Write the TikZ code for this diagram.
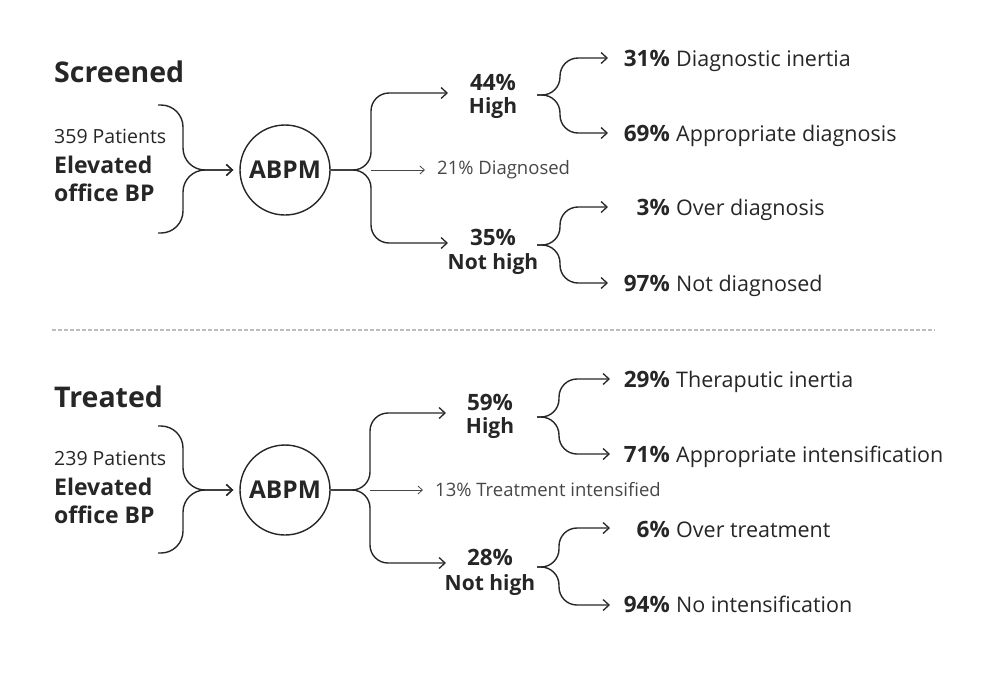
\documentclass[tikz,border=0pt]{standalone}
\usepackage{fontspec}
\setmainfont{Open Sans}[Ligatures=NoCommon]
\usetikzlibrary{arrows.meta}
\definecolor{ink}{HTML}{262626}
\definecolor{dash}{HTML}{BDBDBD}
\begin{document}
\begin{tikzpicture}[x=1pt,y=-1pt,
  txt/.style={inner sep=0pt, text=ink},
  ttl/.style={txt, font=\fontsize{28.5}{30}\selectfont\bfseries},
  small/.style={txt, font=\fontsize{19.5}{21}\selectfont},
  midb/.style={txt, font=\fontsize{23}{25}\selectfont\bfseries},
  pct/.style={txt, font=\fontsize{22.5}{24}\selectfont\bfseries},
  word/.style={txt, font=\fontsize{21}{23}\selectfont\bfseries},
  lab/.style={txt, font=\fontsize{21.5}{23}\selectfont},
  note/.style={txt, font=\fontsize{18.5}{20}\selectfont, text=ink!85},
  hub/.style={circle, draw=ink, line width=1.4pt, minimum size=90pt, inner sep=0pt, text=ink, font=\fontsize{24.5}{26}\selectfont\bfseries},
  link/.style={draw=ink, line width=1.4pt, rounded corners=18pt, -{Straight Barb[length=6pt,width=11pt,line width=1.3pt]}},
  thinlink/.style={draw=ink!85, line width=0.8pt, -{Straight Barb[length=4.5pt,width=8pt,line width=0.8pt]}},
  sep/.style={draw=dash, line width=1.2pt, dash pattern=on 3.5pt off 2.5pt}
]
\useasboundingbox (0,0) rectangle (1000,673);

% ---------- Top panel ----------
\node[ttl, anchor=base west] (t1) at (54,82) {Screened};
\node[small, anchor=base west] (p1) at (54,143) {359 Patients};
\node[midb, anchor=base west] (e1) at (54,173) {Elevated};
\node[midb, anchor=base west] (o1) at (54,201) {office BP};
\node[hub] (a1) at (285,170) {ABPM};
\coordinate (s1a) at (158,105);
\coordinate (s1b) at (158,233);
\draw[link, rounded corners=22pt, shorten >=6pt] (s1a) -- (183,105) -- (183,170) -- (a1.west);
\draw[link, rounded corners=22pt, shorten >=6pt] (s1b) -- (183,233) -- (183,170) -- (a1.west);
\coordinate (j1) at (371,170);
\coordinate (h1) at (448,93);
\coordinate (n1) at (448,243);
\draw[link] (a1.east) -- (j1) |- (h1);
\draw[link] (a1.east) -- (j1) |- (n1);
\coordinate (m1) at (425,170);
\draw[thinlink] (j1) -- (m1);
\node[note, anchor=west] (d1) at (437,170) {21\% Diagnosed};

\node[pct, anchor=base] (hp1) at (493,90) {44\%};
\node[word, anchor=base] (hl1) at (493,113) {High};
\node[pct, anchor=base] (np1) at (493,245) {35\%};
\node[word, anchor=base] (nl1) at (493,269) {Not high};

\coordinate (hs1) at (537,95);
\coordinate (ns1) at (537,245);
\coordinate (r1a) at (608,58);
\coordinate (r1b) at (608,133);
\coordinate (r1c) at (608,207);
\coordinate (r1d) at (608,283);
\draw[link] (hs1) -- (560,95) |- (r1a);
\draw[link] (hs1) -- (560,95) |- (r1b);
\draw[link] (ns1) -- (560,245) |- (r1c);
\draw[link] (ns1) -- (560,245) |- (r1d);

\node[pct, anchor=base east] (q1a) at (670,66) {31\%};
\node[lab, anchor=base west] (l1a) at (676,66) {Diagnostic inertia};
\node[pct, anchor=base east] (q1b) at (670,141) {69\%};
\node[lab, anchor=base west] (l1b) at (676,141) {Appropriate diagnosis};
\node[pct, anchor=base east] (q1c) at (670,215) {3\%};
\node[lab, anchor=base west] (l1c) at (676,215) {Over diagnosis};
\node[pct, anchor=base east] (q1d) at (670,291) {97\%};
\node[lab, anchor=base west] (l1d) at (676,291) {Not diagnosed};

% ---------- Separator ----------
\coordinate (sepA) at (52,330);
\coordinate (sepB) at (935,330);
\draw[sep] (sepA) -- (sepB);

% ---------- Bottom panel ----------
\begin{scope}[shift={(0,320)}]
\node[ttl, anchor=base west] (t2) at (54,87) {Treated};
\node[small, anchor=base west] (p2) at (54,145) {239 Patients};
\node[midb, anchor=base west] (e2) at (54,175) {Elevated};
\node[midb, anchor=base west] (o2) at (54,203) {office BP};
\node[hub] (a2) at (285,170) {ABPM};
\coordinate (s2a) at (158,106);
\coordinate (s2b) at (158,233);
\draw[link, rounded corners=22pt, shorten >=6pt] (s2a) -- (183,106) -- (183,170) -- (a2.west);
\draw[link, rounded corners=22pt, shorten >=6pt] (s2b) -- (183,233) -- (183,170) -- (a2.west);
\coordinate (j2) at (370,170);
\coordinate (h2) at (446,93);
\coordinate (n2) at (446,243);
\draw[link] (a2.east) -- (j2) |- (h2);
\draw[link] (a2.east) -- (j2) |- (n2);
\coordinate (m2) at (423,170);
\draw[thinlink] (j2) -- (m2);
\node[note, anchor=west] (d2) at (435,170) {13\% Treatment intensified};

\node[pct, anchor=base] (hp2) at (490,90) {59\%};
\node[word, anchor=base] (hl2) at (490,113) {High};
\node[pct, anchor=base] (np2) at (490,245) {28\%};
\node[word, anchor=base] (nl2) at (490,270) {Not high};

\coordinate (hs2) at (537,97);
\coordinate (ns2) at (537,247);
\coordinate (r2a) at (610,59);
\coordinate (r2b) at (610,134);
\coordinate (r2c) at (610,208);
\coordinate (r2d) at (610,285);
\draw[link] (hs2) -- (559,97) |- (r2a);
\draw[link] (hs2) -- (559,97) |- (r2b);
\draw[link] (ns2) -- (559,247) |- (r2c);
\draw[link] (ns2) -- (559,247) |- (r2d);

\node[pct, anchor=base east] (q2a) at (670,67) {29\%};
\node[lab, anchor=base west] (l2a) at (676,67) {Theraputic inertia};
\node[pct, anchor=base east] (q2b) at (670,142) {71\%};
\node[lab, anchor=base west] (l2b) at (676,142) {Appropriate intensification};
\node[pct, anchor=base east] (q2c) at (670,217) {6\%};
\node[lab, anchor=base west] (l2c) at (676,217) {Over treatment};
\node[pct, anchor=base east] (q2d) at (670,292) {94\%};
\node[lab, anchor=base west] (l2d) at (676,292) {No intensification};
\end{scope}
\end{tikzpicture}
\end{document}
